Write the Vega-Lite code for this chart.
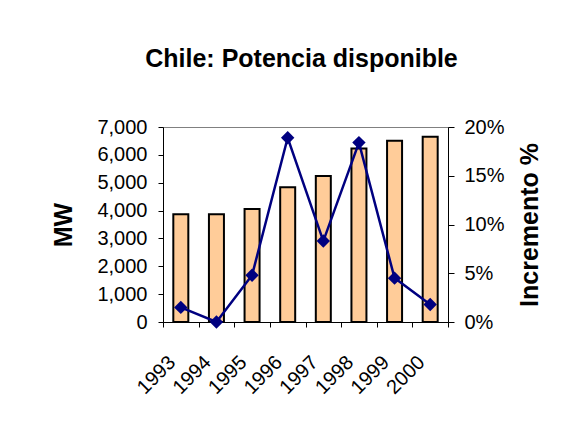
{
  "$schema": "https://vega.github.io/schema/vega-lite/v6.json",
  "width": 285,
  "height": 195,
  "autosize": {"type": "none"},
  "padding": {"left": 163, "top": 127, "right": 135, "bottom": 107},
  "background": "white",
  "title": {
    "text": "Chile: Potencia disponible",
    "fontSize": 25,
    "font": "Liberation Sans",
    "fontWeight": "bold",
    "color": "black",
    "offset": 45,
    "dx": -4
  },
  "data": {
    "values": [
      {"year": "1993", "mw": 3870, "inc": 0.015},
      {"year": "1994", "mw": 3870, "inc": 0.0},
      {"year": "1995", "mw": 4060, "inc": 0.048},
      {"year": "1996", "mw": 4840, "inc": 0.189},
      {"year": "1997", "mw": 5240, "inc": 0.083},
      {"year": "1998", "mw": 6230, "inc": 0.184},
      {"year": "1999", "mw": 6510, "inc": 0.045},
      {"year": "2000", "mw": 6650, "inc": 0.018}
    ]
  },
  "encoding": {
    "x": {
      "field": "year",
      "type": "ordinal",
      "scale": {"paddingInner": 0, "paddingOuter": 0},
      "axis": {
        "title": null,
        "labelAngle": -45,
        "labelAlign": "right",
        "labelBaseline": "middle",
        "labelFontSize": 20,
        "labelPadding": 32,
        "labelOffset": -9,
        "tickBand": "extent",
        "tickSize": 5,
        "grid": false
      }
    }
  },
  "layer": [
    {
      "mark": {"type": "bar", "size": 15, "fill": "#FFCC99", "stroke": "black", "strokeWidth": 2},
      "encoding": {
        "y": {
          "field": "mw",
          "type": "quantitative",
          "scale": {"domain": [0, 7000]},
          "axis": {
            "title": "MW",
            "values": [0, 1000, 2000, 3000, 4000, 5000, 6000, 7000],
            "format": ",.0f",
            "labelFontSize": 20,
            "labelPadding": 11,
            "tickSize": 5,
            "titleFontSize": 25,
            "titleFontWeight": "bold",
            "titlePadding": 20,
            "grid": false
          }
        }
      }
    },
    {
      "mark": {
        "type": "line",
        "color": "#000080",
        "strokeWidth": 2.5,
        "point": {"shape": "diamond", "size": 180, "filled": true, "color": "#000080", "opacity": 1}
      },
      "encoding": {
        "y": {
          "field": "inc",
          "type": "quantitative",
          "scale": {"domain": [0, 0.2]},
          "axis": {
            "orient": "right",
            "title": "Incremento %",
            "values": [0, 0.05, 0.1, 0.15, 0.2],
            "format": ".0%",
            "labelFontSize": 20,
            "labelPadding": 10,
            "tickSize": 6,
            "titleFontSize": 25,
            "titleFontWeight": "bold",
            "titleAngle": 270,
            "titleBaseline": "top",
            "titlePadding": 13,
            "grid": false
          }
        }
      }
    }
  ],
  "resolve": {"scale": {"y": "independent"}},
  "config": {
    "font": "Liberation Sans",
    "view": {"stroke": "#808080", "strokeWidth": 1},
    "axis": {
      "labelFont": "Liberation Sans",
      "titleFont": "Liberation Sans",
      "labelColor": "black",
      "titleColor": "black",
      "domainColor": "black",
      "tickColor": "black",
      "domainWidth": 1,
      "tickWidth": 1
    }
  }
}
